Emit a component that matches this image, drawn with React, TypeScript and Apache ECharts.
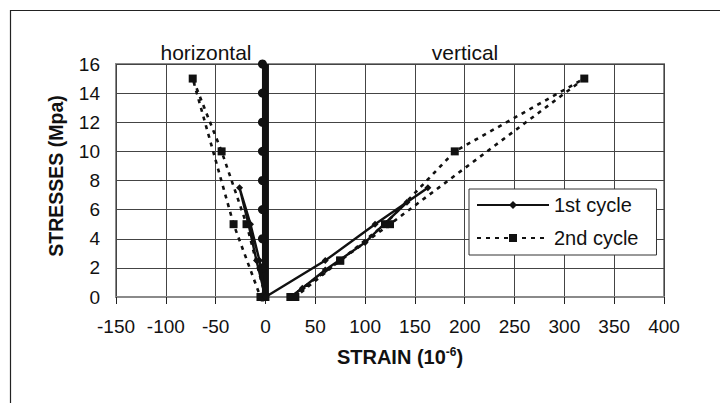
import React, { useEffect, useRef } from "react";
import * as echarts from "echarts";

const cycle1HorizontalX = [0, -6, -15, -26, -17, -9, 0];
const cycle1HorizontalY = [0, 2.5, 5, 7.5, 5, 2.5, 0];
const cycle1VerticalX = [0, 60, 110, 163, 142, 100, 60, 37, 25];
const cycle1VerticalY = [0, 2.5, 5, 7.5, 6.5, 3.75, 1.85, 0.6, 0];
const cycle2HorizontalX = [0, -19, -44, -73, -32, -5];
const cycle2HorizontalY = [0, 5, 10, 15, 5, 0];
const cycle2VerticalX = [25, 75, 120, 190, 320, 125, 75, 30];
const cycle2VerticalY = [0, 2.5, 5, 10, 15, 5, 2.5, 0];
const axisMarkY = [0, 2, 4, 6, 8, 10, 12, 14, 16];

const zip = (xs: number[], ys: number[]) => xs.map((x, i) => [x, ys[i]]);

const FONT = "Liberation Sans, Arial, sans-serif";

export default function App() {
  const ref = useRef<HTMLDivElement>(null);
  useEffect(() => {
    if (!ref.current) return;
    const chart = echarts.init(ref.current, undefined, { renderer: "svg" });
    const solid = {
      type: "line",
      name: "1st cycle",
      symbol: "diamond",
      symbolSize: 7,
      itemStyle: { color: "#111" },
      lineStyle: { color: "#111", width: 2.4, type: "solid" },
    };
    const dashed = {
      type: "line",
      name: "2nd cycle",
      symbol: "rect",
      symbolSize: 8,
      itemStyle: { color: "#111" },
      lineStyle: { color: "#111", width: 2.6, type: [4, 5] },
    };
    chart.setOption({
      animation: false,
      backgroundColor: "#fff",
      textStyle: { fontFamily: FONT },
      grid: {
        left: 116,
        right: 56,
        top: 64,
        bottom: 106,
        show: true,
        borderColor: "#8a8a8a",
        borderWidth: 2,
        backgroundColor: "transparent",
      },
      xAxis: {
        type: "value",
        min: -150,
        max: 400,
        interval: 50,
        axisLine: { show: true, lineStyle: { color: "#8a8a8a", width: 2 } },
        axisTick: { show: true, length: 7, lineStyle: { color: "#222" } },
        axisLabel: { fontSize: 19, color: "#111", margin: 20, fontFamily: FONT },
        splitLine: { show: true, lineStyle: { color: "#444", width: 1 } },
      },
      yAxis: {
        type: "value",
        min: 0,
        max: 16,
        interval: 2,
        axisLine: { show: true, lineStyle: { color: "#8a8a8a", width: 2 } },
        axisTick: { show: true, length: 5, lineStyle: { color: "#222" } },
        axisLabel: { fontSize: 19, color: "#111", margin: 16, fontFamily: FONT },
        splitLine: { show: true, lineStyle: { color: "#444", width: 1 } },
      },
      legend: {
        show: true,
        data: ["1st cycle", "2nd cycle"],
        orient: "vertical",
        left: 469,
        top: 189,
        padding: [6, 18, 7, 7],
        itemWidth: 72,
        itemHeight: 10,
        itemGap: 13,
        backgroundColor: "#fff",
        borderColor: "#333",
        borderWidth: 1,
        borderRadius: 0,
        textStyle: { fontSize: 20, color: "#111", fontFamily: FONT },
      },
      graphic: [
        {
          type: "rect",
          shape: { x: 10.5, y: 10.5, width: 730, height: 420 },
          style: { fill: "none", stroke: "#222", lineWidth: 1.2 },
          silent: true,
        },
        {
          type: "text",
          x: 206,
          y: 52,
          style: {
            text: "horizontal",
            fontSize: 21,
            fontFamily: FONT,
            fill: "#111",
            align: "center",
            verticalAlign: "middle",
          },
        },
        {
          type: "text",
          x: 465,
          y: 52,
          style: {
            text: "vertical",
            fontSize: 21,
            fontFamily: FONT,
            fill: "#111",
            align: "center",
            verticalAlign: "middle",
          },
        },
        {
          type: "text",
          x: 56,
          y: 176,
          rotation: Math.PI / 2,
          style: {
            text: "STRESSES (Mpa)",
            fontSize: 19.5,
            fontWeight: "bold",
            fontFamily: FONT,
            fill: "#111",
            align: "center",
            verticalAlign: "middle",
          },
        },
        {
          type: "text",
          x: 400,
          y: 357,
          style: {
            text: "STRAIN (10{sup|-6})",
            fontSize: 20,
            fontWeight: "bold",
            fontFamily: FONT,
            fill: "#111",
            align: "center",
            verticalAlign: "middle",
            rich: {
              sup: {
                fontSize: 12,
                fontWeight: "bold",
                fontFamily: FONT,
                fill: "#111",
                padding: [0, 0, 11, 0],
              },
            },
          },
        },
      ],
      series: [
        {
          type: "line",
          name: "axis-mark",
          silent: true,
          symbol: "circle",
          symbolSize: 9,
          symbolOffset: [-3, 0],
          itemStyle: { color: "#111" },
          lineStyle: { color: "#111", width: 7 },
          data: axisMarkY.map((y) => [0, y]),
          z: 1,
        },
        { ...solid, data: zip(cycle1HorizontalX, cycle1HorizontalY), z: 3 },
        { ...solid, data: zip(cycle1VerticalX, cycle1VerticalY), z: 3 },
        { ...dashed, data: zip(cycle2HorizontalX, cycle2HorizontalY), z: 2 },
        { ...dashed, data: zip(cycle2VerticalX, cycle2VerticalY), z: 2 },
      ],
    });
    return () => chart.dispose();
  }, []);
  return (
    <div
      ref={ref}
      style={{ position: "fixed", left: 0, top: 0, width: 720, height: 403 }}
    />
  );
}
